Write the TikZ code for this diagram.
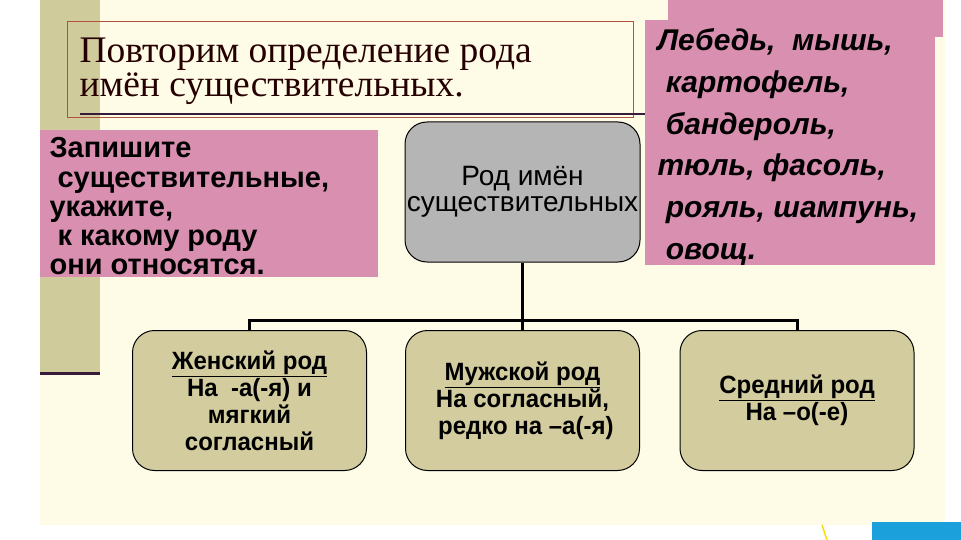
\documentclass[tikz,border=0pt]{standalone}
\usepackage{fontspec}
\setmainfont{Liberation Serif}
\newfontfamily\sans{Liberation Sans}
\newfontfamily\narrow[FakeStretch=0.96]{Liberation Sans}
\definecolor{cream}{HTML}{FEFCE6}
\definecolor{olive}{HTML}{CFCB9B}
\definecolor{pinkb}{HTML}{D98FB0}
\definecolor{grayb}{HTML}{B5B5B5}
\definecolor{khaki}{HTML}{D2CC9E}
\definecolor{darkp}{HTML}{3A1A3A}
\definecolor{brownr}{HTML}{B0533F}
\definecolor{blueb}{HTML}{1BA0DC}
\begin{document}
\begin{tikzpicture}[x=1pt,y=-1pt,
  rbox/.style={draw=black,line width=1pt,rounded corners=22pt,minimum width=234pt,minimum height=140pt,align=center,inner sep=0pt},
  conn/.style={line width=3pt,black}]
\useasboundingbox (0,0) rectangle (961,540);
\fill[white] (0,0) rectangle (961,540);
\fill[cream] (40,0) rectangle (945,525);
\fill[olive] (40,0) rectangle (100,373);
\draw[darkp,line width=3pt] (40,373) -- (100,373);
% bottom-right decoration
\draw[yellow!80!orange,line width=1.5pt] (822,525) -- (827,540);
\fill[blueb] (872,522) rectangle (961,540);
% title
\node[draw=brownr,line width=0.8pt,minimum width=566pt,minimum height=96pt,anchor=north west,inner sep=0pt] (title) at (67,21) {};
\node[anchor=west,align=left,font=\fontsize{37.5}{34}\selectfont,text=black!85!red] (ttext) at (76,71) {Повторим определение рода\\имён существительных.};
\draw[darkp,line width=1.5pt] (80,114) -- (645,114);
% left pink
\node[fill=pinkb,minimum width=338pt,minimum height=147pt,anchor=north west,inner sep=0pt] (lp) at (40,130) {};
\node[anchor=north west,align=left,font=\sans\bfseries\fontsize{29}{29.3}\selectfont] (lptext) at (46,134) {Запишите\\\ существительные,\\укажите,\\\ к какому роду\\они относятся.};
% right pink
\fill[pinkb] (668,0) rectangle (943,37);
\node[fill=pinkb,minimum width=290pt,minimum height=245pt,anchor=north west,inner sep=0pt] (rp) at (645,20) {};
\node[anchor=north west,align=left,font=\sans\bfseries\itshape\fontsize{30}{41.8}\selectfont] (rptext) at (654,25) {Лебедь,\ \ мышь,\\\ картофель,\\\ бандероль,\\тюль, фасоль,\\\ рояль, шампунь,\\\ овощ.};
% center
\node[rbox,fill=grayb,minimum width=235pt,font=\sans\fontsize{28}{26}\selectfont] (root) at (522.5,192) {Род имён\\существительных};
% bottom
\node[rbox,fill=khaki,font=\narrow\bfseries\fontsize{25}{27}\selectfont] (f) at (249.5,400.5) {\underline{Женский род}\\На \ -а(-я) и\\мягкий\\согласный};
\node[rbox,fill=khaki,font=\narrow\bfseries\fontsize{25}{27}\selectfont] (m) at (522.5,400.5) {\underline{Мужской род}\\На согласный,\\\ редко на –а(-я)};
\node[rbox,fill=khaki,font=\narrow\bfseries\fontsize{25}{27}\selectfont] (n) at (797,400.5) {\underline{Средний род}\\На –о(-е)};
\coordinate (j) at (522.5,320);
\draw[conn] (root.south) -- (j);
\draw[conn] (f.north) |- (j) -| (n.north);
\draw[conn] (j) -- (m.north);
\end{tikzpicture}
\end{document}
